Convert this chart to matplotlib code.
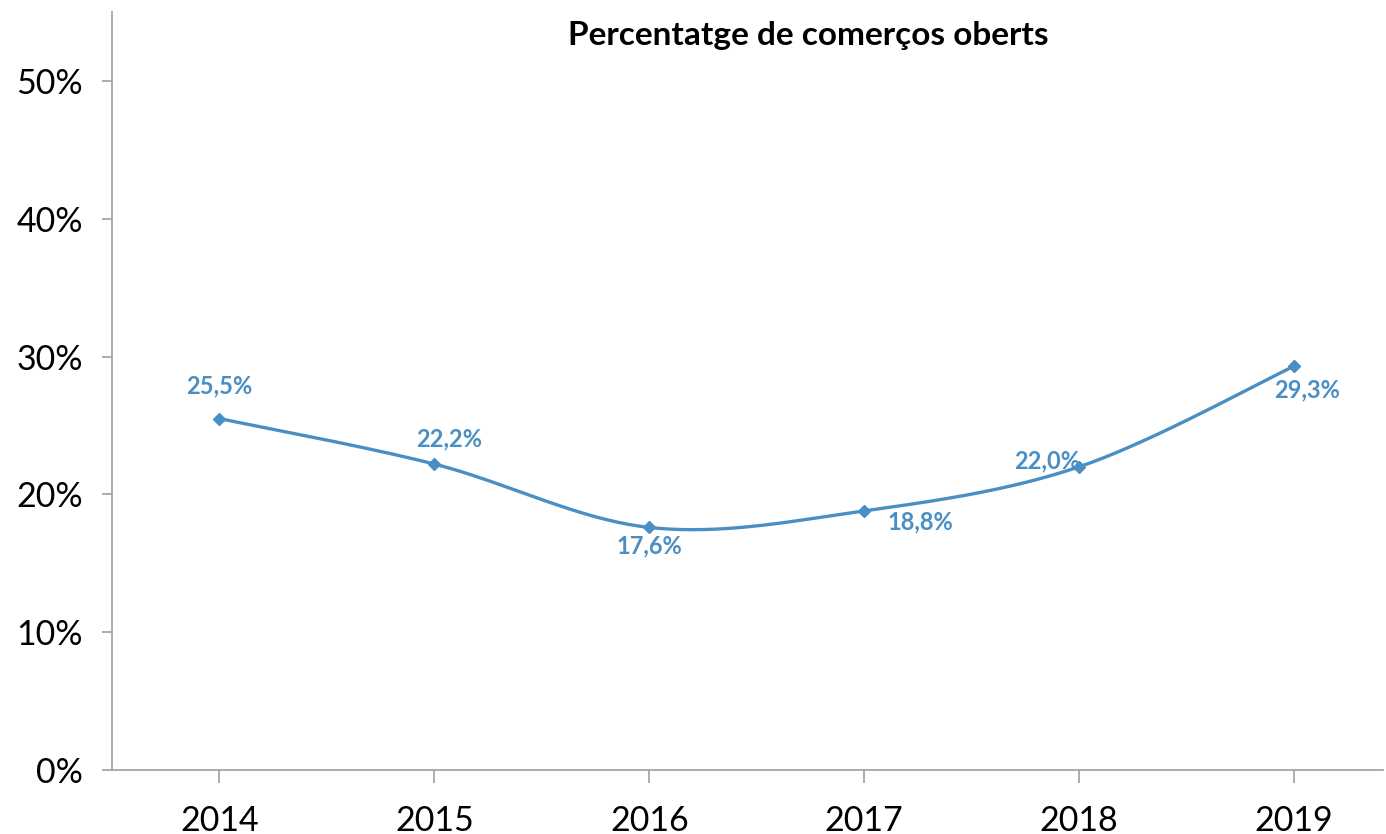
import numpy as np
import matplotlib
matplotlib.use("Agg")
import matplotlib.pyplot as plt
from matplotlib.ticker import FuncFormatter

years = ["2014", "2015", "2016", "2017", "2018", "2019"]
values = [25.5, 22.2, 17.6, 18.8, 22.0, 29.3]
labels = ["25,5%", "22,2%", "17,6%", "18,8%", "22,0%", "29,3%"]
title = "Percentatge de comerços oberts"

plt.rcParams['font.family'] = ['Lato', 'DejaVu Sans']

color = "#4A8FC4"
axis_grey = "#A6A6A6"

fig = plt.figure(figsize=(13.86, 8.34), dpi=100)
W, H = 1386, 834
left, right, bottom, top = 112, 1383, 770, 12
ax = fig.add_axes([left / W, 1 - bottom / H, (right - left) / W, (bottom - top) / H])

x = np.arange(len(values), dtype=float)
y = np.array(values, dtype=float)

# Excel-like smoothed line (Catmull-Rom cubic Bezier)
def smooth(xs, ys, n=40):
    px, py = [], []
    m = len(xs)
    for i in range(m - 1):
        x0, y0 = (xs[i - 1], ys[i - 1]) if i > 0 else (xs[i], ys[i])
        x1, y1 = xs[i], ys[i]
        x2, y2 = xs[i + 1], ys[i + 1]
        x3, y3 = (xs[i + 2], ys[i + 2]) if i + 2 < m else (xs[i + 1], ys[i + 1])
        c1x, c1y = x1 + (x2 - x0) / 6, y1 + (y2 - y0) / 6
        c2x, c2y = x2 - (x3 - x1) / 6, y2 - (y3 - y1) / 6
        t = np.linspace(0, 1, n)
        bx = (1 - t) ** 3 * x1 + 3 * (1 - t) ** 2 * t * c1x + 3 * (1 - t) * t ** 2 * c2x + t ** 3 * x2
        by = (1 - t) ** 3 * y1 + 3 * (1 - t) ** 2 * t * c1y + 3 * (1 - t) * t ** 2 * c2y + t ** 3 * y2
        px.extend(bx); py.extend(by)
    return np.array(px), np.array(py)

sx, sy = smooth(x, y)
ax.plot(sx, sy, color=color, lw=2.4, solid_capstyle='round', zorder=3)
ax.plot(x, y, linestyle='none', marker='D', markersize=6.5, color=color, zorder=4)

# label offsets in pixels (dx, dy)
offsets = [(0, 33), (15, 25), (0, -18), (56, -11), (-32, 6), (13, -24)]
for xi, yi, lab, (dx, dy) in zip(x, y, labels, offsets):
    ax.annotate(lab, (xi, yi), xytext=(dx * 0.72, dy * 0.72), textcoords='offset points',
                ha='center', va='center', fontsize=17, fontweight='bold', color=color, zorder=5)

ax.set_xlim(-0.5, (right - 219) / 215.0)
ax.set_ylim(0, 55)
ax.set_xticks(x)
ax.set_xticklabels(years)
ax.set_yticks([0, 10, 20, 30, 40, 50])
ax.yaxis.set_major_formatter(FuncFormatter(lambda v, p: f"{int(v)}%"))

for s in ['top', 'right']:
    ax.spines[s].set_visible(False)
for s in ['left', 'bottom']:
    ax.spines[s].set_color(axis_grey)
    ax.spines[s].set_linewidth(1.3)

ax.tick_params(axis='x', direction='out', length=9, width=1.3, color=axis_grey,
               labelsize=24.5, labelcolor='black', pad=16)
ax.tick_params(axis='y', direction='out', length=7, width=1.3, color=axis_grey,
               labelsize=24.5, labelcolor='black', pad=14)

fig.text(808 / W, 1 - 35 / H, title, ha='center', va='center', fontsize=24, fontweight='bold', color='black')

fig.savefig("out.png", dpi=100)
